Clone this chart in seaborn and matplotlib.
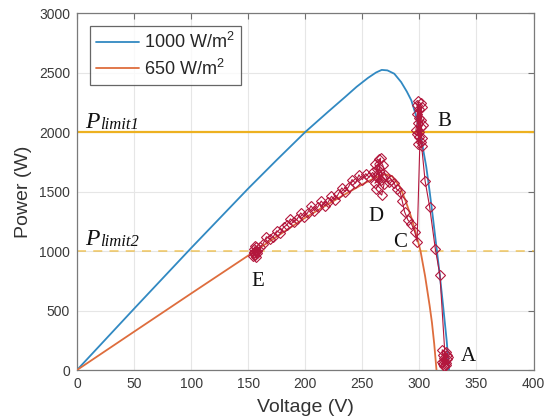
import matplotlib
matplotlib.use("Agg")
import matplotlib.pyplot as plt
import seaborn as sns
import pandas as pd

# P-V characteristic at 1000 W/m^2
v_1000 = [0, 50, 100, 150, 175, 200, 220, 235, 245, 255, 262, 267, 272, 278, 284,
          289, 293, 297, 300, 303, 306, 309, 312, 315, 318, 321, 324, 326]
p_1000 = [0, 515, 1025, 1525, 1765, 2000, 2170, 2295, 2380, 2455, 2500, 2522, 2518,
          2490, 2420, 2340, 2265, 2140, 2010, 1870, 1710, 1500, 1270, 1030, 790,
          520, 240, 0]

# P-V characteristic at 650 W/m^2
v_650 = [0, 50, 100, 156, 200, 230, 250, 262, 270, 276, 283, 288, 293, 298, 301,
         305, 309, 311, 313, 315]
p_650 = [0, 322, 643, 1000, 1280, 1450, 1560, 1620, 1645, 1630, 1540, 1420, 1280,
         1110, 1000, 790, 540, 400, 220, 0]

# Operating-point trajectory A -> B -> C -> D -> E
traj_v = [323, 321, 324, 322, 320, 325, 322, 323, 321, 324, 322, 320, 323,
          318, 314, 309, 305,
          302, 300, 298, 301, 299, 302, 300, 297, 301, 299, 303, 298, 300, 302,
          299, 301, 298, 300, 301,
          298, 296, 293, 290, 287, 285, 283, 280, 278, 275, 273,
          270, 268, 265, 263, 266, 262, 267, 269, 264, 261, 266, 264, 261, 268,
          265, 262, 259,
          256, 253, 250, 247, 244, 241, 238, 235, 232, 229, 226, 223, 220, 217,
          214, 211, 208, 205, 202, 199, 196, 193, 190, 187, 184, 181, 178, 175,
          172, 169, 166, 163, 160,
          158, 156, 157, 155, 157, 155, 158, 156, 154, 157, 155]
traj_p = [60, 130, 90, 30, 170, 110, 80, 150, 50, 130, 100, 70, 40,
          800, 1015, 1370, 1590,
          1880, 2000, 2150, 2240, 2080, 1950, 2190, 2020, 1920, 2260, 2060, 1980,
          2120, 2210, 1900, 2040, 2230, 1960, 2100,
          1080, 1160, 1230, 1260, 1330, 1420, 1500, 1520, 1570, 1600, 1580,
          1640, 1720, 1770, 1690, 1600, 1520, 1470, 1560, 1650, 1730, 1780, 1610,
          1570, 1620, 1700, 1630, 1660,
          1620, 1650, 1600, 1640, 1570, 1600, 1540, 1500, 1530, 1480, 1430, 1460,
          1410, 1380, 1420, 1370, 1340, 1380, 1320, 1290, 1320, 1270, 1240, 1270,
          1220, 1200, 1150, 1170, 1120, 1100, 1120, 1060, 1030,
          1000, 970, 1030, 990, 950, 1020, 980, 1040, 960, 1000, 980]

# Power limits
p_limit1 = 2000
p_limit2 = 1000

# Point labels
point_names = ["A", "B", "C", "D", "E"]
point_v = [343, 322, 283, 262, 158]
point_p = [110, 2090, 1071, 1286, 740]

x_ticks = [0, 50, 100, 150, 200, 250, 300, 350, 400]
y_ticks = [0, 500, 1000, 1500, 2000, 2500, 3000]

BLUE = "#3189c2"
ORANGE = "#de6d3d"
YELLOW = "#EDB120"
RED = "#b3173d"

sns.set_theme(style="white")
plt.rcParams["font.family"] = ["Liberation Sans", "DejaVu Sans"]
plt.rcParams["mathtext.fontset"] = "custom"
plt.rcParams["mathtext.rm"] = "Liberation Sans"
plt.rcParams["mathtext.it"] = "Liberation Sans:italic"

fig = plt.figure(figsize=(5.5, 4.2), dpi=100)
ax = fig.add_axes([0.140, 0.119, 0.830, 0.850])

df_1000 = pd.DataFrame({"Voltage": v_1000, "Power": p_1000})
df_650 = pd.DataFrame({"Voltage": v_650, "Power": p_650})
df_traj = pd.DataFrame({"Voltage": traj_v, "Power": traj_p})

ax.axhline(p_limit1, color=YELLOW, lw=1.6, zorder=2)
ax.axhline(p_limit2, color=YELLOW, lw=1.3, ls=(0, (5, 4)), alpha=0.6, zorder=2)

sns.lineplot(data=df_1000, x="Voltage", y="Power", color=BLUE, lw=1.3,
             label="1000 W/m$^2$", ax=ax, zorder=3)
sns.lineplot(data=df_650, x="Voltage", y="Power", color=ORANGE, lw=1.3,
             label="650 W/m$^2$", ax=ax, zorder=3)
sns.lineplot(data=df_traj, x="Voltage", y="Power", sort=False, estimator=None,
             color=RED, lw=0.8, marker="D", markersize=5.5,
             markerfacecolor="none", markeredgecolor=RED, markeredgewidth=0.8,
             legend=False, ax=ax, zorder=4)

ax.set_xlim(0, 400)
ax.set_ylim(0, 3000)
ax.set_xticks(x_ticks)
ax.set_yticks(y_ticks)
ax.grid(True, color="#e6e6e6", lw=0.8)
ax.set_axisbelow(True)
ax.tick_params(direction="in", top=True, right=True, length=4, width=0.8,
               color="#707070", labelsize=10, labelcolor="#3a3a3a", pad=5)
for s in ax.spines.values():
    s.set_color("#7a7a7a")
    s.set_linewidth(0.9)

ax.set_xlabel("Voltage (V)", fontsize=14, color="#333333", labelpad=6)
ax.set_ylabel("Power (W)", fontsize=14, color="#333333", labelpad=5)

leg = ax.legend(loc="upper left", bbox_to_anchor=(0.028, 0.964), fontsize=13,
                frameon=True, fancybox=False, edgecolor="#404040",
                handlelength=2.4, borderpad=0.35, labelspacing=0.35,
                handletextpad=0.25, borderaxespad=0)
leg.get_frame().set_linewidth(0.9)

# Limit annotations: large italic P with a smaller italic suffix
serif = ["Liberation Serif", "DejaVu Serif"]
for name, base in [("limit1", 2034), ("limit2", 1050)]:
    t = ax.text(7, base, "P", family=serif, style="italic", fontsize=17,
                va="baseline", ha="left", color="#111111")
    ax.annotate(name, xy=(1, 0), xycoords=t, xytext=(0.5, 0),
                textcoords="offset points", family=serif, style="italic",
                fontsize=12, va="bottom", ha="left", color="#111111")

for name, vx, py in zip(point_names, point_v, point_p):
    ax.text(vx, py, name, family=serif, fontsize=15, ha="center", va="center",
            color="#111111", zorder=5)

fig.savefig("out.png", dpi=100)
